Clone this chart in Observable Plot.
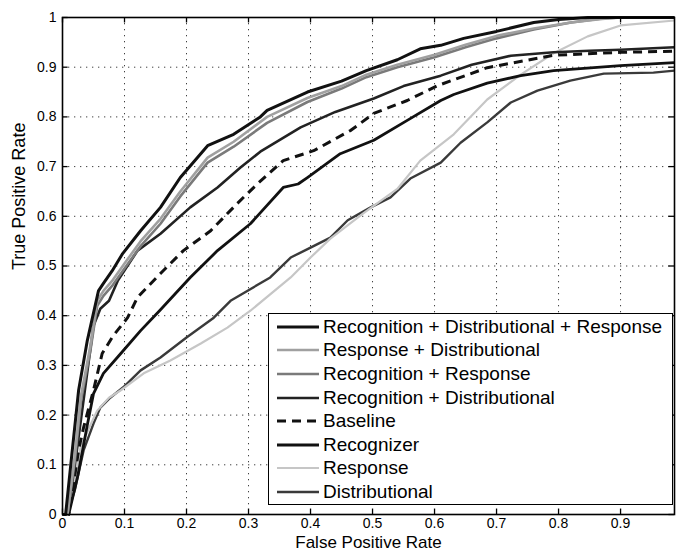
<!DOCTYPE html>
<html><head><meta charset="utf-8">
<script src="https://cdn.jsdelivr.net/npm/d3@7"></script>
<script src="https://cdn.jsdelivr.net/npm/@observablehq/plot@0.6"></script>
<style>
body{margin:0;background:#fff;font-family:"Liberation Sans",Arial,sans-serif;}
#wrap{position:relative;width:678px;height:552px;}
#legend{position:absolute;left:268px;top:313px;width:405px;height:192px;border:1.5px solid #000;background:#fff;box-sizing:border-box;padding-top:1px;}
.row{height:23.6px;display:flex;align-items:center;font-size:19px;color:#000;white-space:nowrap;}
.row svg{flex:none;margin-left:8px;margin-right:4px;}
</style>
</head><body>
<div id="wrap"><div id="chart"></div><div id="legend"></div></div>
<script>
// ---- data ----
const seriesNames = ["Recognition + Distributional + Response","Response + Distributional","Recognition + Response","Recognition + Distributional","Baseline","Recognizer","Response","Distributional"];

const fprRDR = [0,0.005,0.015,0.026,0.04,0.058,0.066,0.08,0.097,0.126,0.158,0.19,0.234,0.276,0.319,0.33,0.395,0.45,0.49,0.54,0.577,0.61,0.647,0.70,0.76,0.80,0.847,0.9,0.987];
const tprRDR = [0,0,0.12,0.25,0.35,0.45,0.465,0.49,0.525,0.571,0.618,0.678,0.742,0.765,0.80,0.813,0.85,0.872,0.893,0.915,0.937,0.944,0.958,0.972,0.99,0.996,1,1,1];

const fprRD = [0,0.008,0.02,0.03,0.045,0.056,0.066,0.08,0.1,0.126,0.158,0.19,0.234,0.276,0.33,0.395,0.45,0.49,0.54,0.6,0.65,0.7,0.76,0.82,0.87,0.9,0.987];
const tprRD = [0,0,0.12,0.24,0.34,0.43,0.45,0.47,0.505,0.55,0.595,0.65,0.718,0.75,0.80,0.838,0.862,0.885,0.905,0.925,0.945,0.963,0.978,0.99,0.997,1,1];

const fprRR = [0,0.008,0.02,0.03,0.045,0.056,0.066,0.08,0.1,0.126,0.158,0.19,0.234,0.276,0.33,0.395,0.45,0.49,0.54,0.6,0.65,0.7,0.76,0.82,0.87,0.9,0.987];
const tprRR = [0,0,0.11,0.23,0.33,0.42,0.44,0.46,0.495,0.54,0.585,0.64,0.708,0.74,0.788,0.83,0.857,0.88,0.9,0.92,0.94,0.958,0.976,0.99,0.998,1,1];

const fprRcD = [0,0.008,0.02,0.035,0.05,0.061,0.075,0.089,0.121,0.158,0.206,0.25,0.287,0.319,0.384,0.44,0.502,0.55,0.61,0.66,0.723,0.792,0.85,0.9,0.987];
const tprRcD = [0,0,0.1,0.24,0.38,0.414,0.43,0.47,0.531,0.565,0.618,0.658,0.698,0.73,0.779,0.81,0.837,0.862,0.883,0.905,0.923,0.93,0.933,0.935,0.94];

const fprBase = [0,0.01,0.02,0.026,0.034,0.05,0.064,0.082,0.105,0.121,0.158,0.195,0.239,0.282,0.315,0.356,0.405,0.465,0.502,0.556,0.605,0.685,0.792,0.9,0.987];
const tprBase = [0,0,0.08,0.13,0.175,0.25,0.324,0.36,0.396,0.437,0.485,0.531,0.571,0.626,0.666,0.712,0.732,0.773,0.807,0.833,0.863,0.899,0.924,0.93,0.932];

const fprRec = [0,0.01,0.025,0.04,0.05,0.066,0.094,0.126,0.158,0.206,0.25,0.303,0.356,0.38,0.395,0.448,0.502,0.556,0.61,0.631,0.685,0.739,0.792,0.9,0.987];
const tprRec = [0,0,0.08,0.18,0.243,0.284,0.324,0.37,0.412,0.477,0.531,0.585,0.658,0.665,0.678,0.726,0.753,0.793,0.833,0.845,0.868,0.883,0.893,0.903,0.909];

const fprResp = [0,0.01,0.02,0.029,0.045,0.056,0.075,0.094,0.131,0.174,0.223,0.266,0.303,0.368,0.4,0.432,0.485,0.54,0.577,0.631,0.685,0.739,0.792,0.847,0.9,0.987];
const tprResp = [0,0,0.07,0.135,0.18,0.209,0.235,0.25,0.284,0.31,0.344,0.376,0.41,0.477,0.517,0.555,0.606,0.655,0.712,0.765,0.835,0.885,0.928,0.962,0.984,0.994];

const fprDist = [0,0.008,0.02,0.034,0.05,0.061,0.077,0.098,0.126,0.158,0.2,0.244,0.271,0.335,0.368,0.4,0.432,0.46,0.497,0.529,0.561,0.61,0.642,0.685,0.723,0.766,0.819,0.873,0.953,0.987];
const tprDist = [0,0,0.05,0.129,0.183,0.215,0.235,0.256,0.29,0.316,0.356,0.396,0.43,0.477,0.517,0.537,0.557,0.592,0.618,0.638,0.676,0.708,0.748,0.789,0.829,0.853,0.873,0.887,0.889,0.893];

const xTicks = [0,0.1,0.2,0.3,0.4,0.5,0.6,0.7,0.8,0.9];
const yTicks = [0,0.1,0.2,0.3,0.4,0.5,0.6,0.7,0.8,0.9,1];
const xMax = 0.987;

// ---- styles ----
const styles = [
  {key:seriesNames[0], fpr:fprRDR, tpr:tprRDR, color:"#111", w:3, dash:null},
  {key:seriesNames[1], fpr:fprRD, tpr:tprRD, color:"#a0a0a0", w:2.6, dash:null},
  {key:seriesNames[2], fpr:fprRR, tpr:tprRR, color:"#7a7a7a", w:2.6, dash:null},
  {key:seriesNames[3], fpr:fprRcD, tpr:tprRcD, color:"#222", w:2.6, dash:null},
  {key:seriesNames[4], fpr:fprBase, tpr:tprBase, color:"#111", w:3, dash:"9,6"},
  {key:seriesNames[5], fpr:fprRec, tpr:tprRec, color:"#111", w:2.8, dash:null},
  {key:seriesNames[6], fpr:fprResp, tpr:tprResp, color:"#c6c6c6", w:2.2, dash:null},
  {key:seriesNames[7], fpr:fprDist, tpr:tprDist, color:"#3a3a3a", w:2.4, dash:null}
];
const drawOrder = [7,6,5,4,3,2,1,0];

const lineMarks = drawOrder.map(i => {
  const s = styles[i];
  const pts = s.fpr.map((x,j)=>({x, y:s.tpr[j]}));
  return Plot.line(pts, {x:"x", y:"y", stroke:s.color, strokeWidth:s.w, strokeDasharray:s.dash, strokeLinejoin:"round", strokeLinecap:"butt"});
});

const fmt = d => d===0 ? "0" : d===1 ? "1" : d3.format(".1f")(d);

const chart = Plot.plot({
  width:678, height:552,
  marginLeft:62, marginRight:4, marginTop:17, marginBottom:38,
  style:{fontFamily:"'Liberation Sans', Arial, sans-serif", background:"#fff", color:"#000"},
  x:{domain:[0,xMax]},
  y:{domain:[0,1]},
  marks:[
    Plot.gridX(xTicks.filter(d=>d>0), {stroke:"#000", strokeOpacity:0.75, strokeDasharray:"1.3,4.7", strokeWidth:1}),
    Plot.gridY(yTicks.filter(d=>d>0 && d<1), {stroke:"#000", strokeOpacity:0.75, strokeDasharray:"1.3,4.7", strokeWidth:1}),
    Plot.ruleX(xTicks, {x:d=>d, y1:0, y2:0.011, stroke:"#000", strokeWidth:1.3}),
    Plot.ruleX(xTicks, {x:d=>d, y1:1, y2:0.989, stroke:"#000", strokeWidth:1.3}),
    Plot.ruleY(yTicks, {y:d=>d, x1:0, x2:0.009, stroke:"#000", strokeWidth:1.3}),
    Plot.ruleY(yTicks, {y:d=>d, x1:xMax, x2:xMax-0.009, stroke:"#000", strokeWidth:1.3}),
    ...lineMarks,
    Plot.frame({stroke:"#000", strokeWidth:1.6}),
    Plot.axisX(xTicks, {tickSize:0, tickPadding:4, fontSize:14, tickFormat:fmt, label:null}),
    Plot.axisY(yTicks, {tickSize:0, tickPadding:6, fontSize:14, tickFormat:fmt, label:null}),
    Plot.text(["False Positive Rate"], {frameAnchor:"bottom", dy:33, fontSize:17, fill:"#000"}),
    Plot.text(["True Positive Rate"], {frameAnchor:"left", dx:-43, dy:4, rotate:-90, fontSize:18, fill:"#000"})
  ]
});
document.getElementById("chart").appendChild(chart);

// ---- legend (inside the plot area, as in the reference) ----
const legend = document.getElementById("legend");
styles.forEach(s => {
  const row = document.createElement("div");
  row.className = "row";
  const ns = "http://www.w3.org/2000/svg";
  const svg = document.createElementNS(ns, "svg");
  svg.setAttribute("width", 42); svg.setAttribute("height", 10);
  const ln = document.createElementNS(ns, "line");
  ln.setAttribute("x1", 0); ln.setAttribute("x2", 42);
  ln.setAttribute("y1", 5); ln.setAttribute("y2", 5);
  ln.setAttribute("stroke", s.color);
  ln.setAttribute("stroke-width", s.w);
  if (s.dash) ln.setAttribute("stroke-dasharray", "9,6");
  svg.appendChild(ln);
  row.appendChild(svg);
  const t = document.createElement("span");
  t.textContent = s.key;
  row.appendChild(t);
  legend.appendChild(row);
});
</script>
</body></html>
